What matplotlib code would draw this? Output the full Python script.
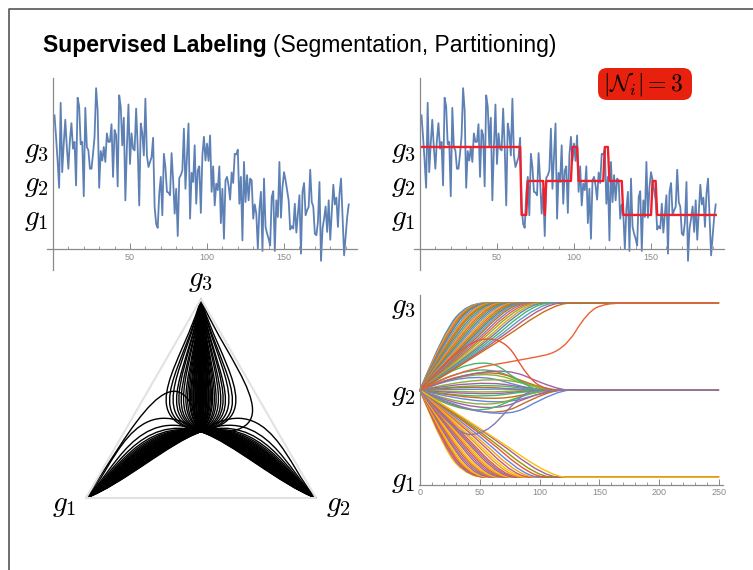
import numpy as np
import matplotlib
matplotlib.use("Agg")
import matplotlib.pyplot as plt
from matplotlib.path import Path
from matplotlib.patches import PathPatch, FancyBboxPatch
from matplotlib.lines import Line2D
from matplotlib.transforms import IdentityTransform

plt.rcParams["font.family"] = ["Liberation Sans", "DejaVu Sans"]
plt.rcParams["mathtext.fontset"] = "cm"

# noisy signal (top panels), one value per sample
signal = [3.93, 3.3, 2.6, 1.8, 4.3, 2.26, 3.1, 3.8, 3.0, 2.36, 3.2, 3.7, 2.95, 3.15, 1.87,
          4.45, 4.2, 3.08, 3.15, 1.55, 4.15, 3.0, 2.9, 2.36, 2.36, 2.8, 3.3, 4.73, 4.08, 1.8,
          2.88, 2.6, 3.0, 2.56, 3.4, 3.15, 3.15, 3.67, 2.12, 3.5, 3.35, 1.84, 4.52, 4.18, 3.05,
          3.86, 1.43, 3.0, 4.25, 2.5, 3.4, 2.95, 2.9, 4.13, 3.0, 1.28, 3.69, 3.4, 2.75, 4.42,
          2.75, 2.41, 2.56, 2.7, 3.27, 1.23, 0.73, 0.62, 1.63, 2.12, 0.99, 2.8, 2.41, 1.68, 1.66,
          1.58, 2.82, 2.02, 1.04, 1.77, 0.38, 2.09, 2.17, 2.31, 3.54, 1.77, 2.7, 3.69, 0.89, 2.24,
          1.97, 3.05, 1.33, 2.31, 2.43, 1.06, 2.75, 3.3, 2.6, 3.1, 2.59, 3.34, 1.68, 2.43, 1.28,
          1.92, 1.73, 2.43, 0.76, 1.77, 0.3, 2.02, 2.12, 1.87, 1.45, 2.25, 1.94, 2.8, 2.78, 2.92,
          1.33, 2.12, 0.25, 2.56, 1.38, 2.17, 1.43, 2.07, 2.02, 0.89, 1.31, 1.04, 0.01, 1.16, 1.68,
          -0.06, 2.07, 0.65, 0.45, 0.3, 0.1, 1.53, 1.7, -0.06, 1.43, 0.94, 2.56, 0.92, 1.82, 2.26,
          2.02, 1.73, 1.43, 0.57, 0.67, 0.6, 1.33, 0.48, 1.04, 1.58, -0.14, 1.68, 1.94, 0.99, 1.14,
          1.24, 2.33, 1.38, 1.24, 0.45, 0.4, 0.79, 1.97, -0.35, 0.6, 0.89, 1.25, 0.5, 1.43, 0.27,
          1.09, 1.89, 1.31, 1.51, 0.65, 1.63, 2.07, 0.92, -0.19, 0.37, 0.94, 1.31]

# red labeling: level of each run and the sample where it starts
step_levels = [3, 1, 2, 1, 2, 3, 2, 3, 2, 1, 2, 1]
step_starts = [0, 65, 69, 80, 81, 98, 102, 119, 122, 131, 150, 153]

level_ticks = [1, 2, 3]
level_labels = [r"$g_1$", r"$g_2$", r"$g_3$"]
signal_ticks = [50, 100, 150]
time_ticks = [0, 50, 100, 150, 200, 250]

# label trajectories (bottom right), control points
up_x1 = [20, 21, 21, 22, 23, 23, 24, 25, 25, 26, 27, 28, 28, 29, 30, 31,
         32, 33, 34, 35, 36, 37, 38, 40, 41, 43, 45, 47, 50, 53, 56, 60]
up_y1 = [2.68, 2.68, 2.67, 2.66, 2.65, 2.64, 2.63, 2.62, 2.61, 2.60, 2.59, 2.58, 2.56, 2.55, 2.54, 2.53,
         2.52, 2.51, 2.50, 2.49, 2.49, 2.48, 2.47, 2.47, 2.46, 2.46, 2.45, 2.45, 2.46, 2.47, 2.48, 2.50]
up_x2 = [40, 41, 42, 43, 44, 45, 47, 48, 50, 51, 53, 55, 56, 58, 60, 62,
         64, 66, 68, 70, 72, 74, 76, 79, 82, 85, 88, 91, 95, 100, 105, 112]

down_x1 = [20, 21, 22, 22, 23, 24, 25, 25, 26, 27, 28, 29, 30, 31,
           32, 33, 34, 35, 36, 38, 39, 41, 43, 45, 48, 51, 55, 58]
down_y1 = [1.30, 1.31, 1.32, 1.33, 1.34, 1.35, 1.36, 1.38, 1.39, 1.40, 1.41, 1.43, 1.44, 1.45,
           1.46, 1.47, 1.48, 1.49, 1.50, 1.51, 1.52, 1.53, 1.53, 1.54, 1.54, 1.53, 1.52, 1.50]
down_x2 = [41, 42, 43, 44, 45, 46, 48, 50, 52, 53, 55, 57, 59, 61,
           63, 65, 67, 69, 71, 74, 77, 80, 84, 88, 93, 98, 104, 110]

stay_x1 = [45, 50, 40, 55, 48, 52, 42, 58, 46, 50, 44, 56, 60, 48, 52, 40, 54, 62, 47, 60, 48]
stay_y1 = [2.35, 2.30, 2.22, 2.18, 2.12, 2.08, 2.05, 2.02, 1.97, 1.94, 1.90, 1.86, 1.80, 1.76,
           1.70, 1.66, 1.62, 1.60, 2.27, 2.33, 2.47]
stay_x2 = [100, 105, 95, 110, 100, 98, 92, 105, 90, 95, 96, 104, 110, 100, 105, 95, 108, 115, 102, 115, 92]

late_riser = [(0, 2), (30, 2.22), (90, 2.36), (120, 2.45), (140, 2.9), (155, 3), (180, 3), (250, 3)]
bump_curve = [(0, 2), (35, 2.55), (70, 2.62), (90, 2.15), (105, 2), (130, 2), (250, 2)]
dip_curve = [(0, 2), (30, 1.48), (55, 1.5), (75, 1.8), (90, 2), (110, 2), (250, 2)]

# simplex trajectories (bottom left), control point offsets
side_dx1 = [-0.14, -0.142, -0.145, -0.148, -0.15, -0.153, -0.156, -0.16, -0.163, -0.166,
            -0.17, -0.173, -0.176, -0.18, -0.184, -0.188, -0.192, -0.196, -0.2, -0.205,
            -0.21, -0.215, -0.22, -0.225, -0.23, -0.235, -0.24, -0.25, -0.26, -0.27, -0.28, -0.3]
side_dy1 = [-0.05, -0.047, -0.044, -0.041, -0.038, -0.035, -0.032, -0.029, -0.026, -0.023,
            -0.02, -0.017, -0.014, -0.011, -0.008, -0.005, -0.002, 0.001, 0.004, 0.008,
            0.012, 0.016, 0.02, 0.025, 0.03, 0.036, 0.043, 0.05, 0.06, 0.08, 0.12, 0.2]
side_ex = [0.16, 0.16, 0.159, 0.158, 0.157, 0.156, 0.155, 0.154, 0.153, 0.152,
           0.15, 0.149, 0.148, 0.146, 0.145, 0.143, 0.142, 0.14, 0.138, 0.136,
           0.134, 0.132, 0.13, 0.128, 0.126, 0.125, 0.124, 0.123, 0.122, 0.121, 0.12, 0.12]
side_ey = [0.06, 0.061, 0.062, 0.063, 0.064, 0.065, 0.066, 0.067, 0.068, 0.069,
           0.07, 0.071, 0.072, 0.073, 0.074, 0.075, 0.076, 0.077, 0.078, 0.079,
           0.08, 0.082, 0.084, 0.086, 0.088, 0.09, 0.093, 0.096, 0.1, 0.105, 0.11, 0.12]

top_dx1 = [-0.3, -0.27, -0.24, -0.21, -0.19, -0.17, -0.15, -0.13, -0.115, -0.1,
           -0.09, -0.08, -0.07, -0.06, -0.05, -0.04, -0.03, -0.02, -0.012, -0.005, 0.0,
           0.005, 0.012, 0.02, 0.03, 0.04, 0.05, 0.06, 0.07, 0.08, 0.09,
           0.1, 0.115, 0.13, 0.15, 0.17, 0.19, 0.21, 0.24, 0.27, 0.3,
           -0.065, -0.045, -0.025, -0.015, -0.008, 0.008, 0.015, 0.025, 0.045, 0.065]
top_dy1 = [0.06, 0.065, 0.07, 0.075, 0.08, 0.085, 0.09, 0.1, 0.1, 0.11,
           0.11, 0.12, 0.12, 0.13, 0.13, 0.14, 0.14, 0.15, 0.15, 0.15, 0.16,
           0.15, 0.15, 0.15, 0.14, 0.14, 0.13, 0.13, 0.12, 0.12, 0.11,
           0.11, 0.1, 0.1, 0.09, 0.085, 0.08, 0.075, 0.07, 0.065, 0.06,
           0.125, 0.135, 0.145, 0.15, 0.155, 0.155, 0.15, 0.145, 0.135, 0.125]
top_ex = [-0.075, -0.068, -0.06, -0.053, -0.048, -0.043, -0.038, -0.033, -0.029, -0.025,
          -0.023, -0.02, -0.018, -0.015, -0.013, -0.01, -0.008, -0.005, -0.003, -0.001, 0.0,
          0.001, 0.003, 0.005, 0.008, 0.01, 0.013, 0.015, 0.018, 0.02, 0.023,
          0.025, 0.029, 0.033, 0.038, 0.043, 0.048, 0.053, 0.06, 0.068, 0.075,
          -0.016, -0.011, -0.006, -0.004, -0.002, 0.002, 0.004, 0.006, 0.011, 0.016]
top_ey = [-0.27, -0.29, -0.28, -0.3, -0.29, -0.31, -0.3, -0.32, -0.31, -0.3,
          -0.32, -0.31, -0.33, -0.32, -0.31, -0.33, -0.32, -0.34, -0.33, -0.32, -0.34,
          -0.32, -0.33, -0.34, -0.32, -0.33, -0.31, -0.32, -0.33, -0.31, -0.32,
          -0.3, -0.31, -0.32, -0.3, -0.31, -0.29, -0.3, -0.28, -0.29, -0.27,
          -0.3, -0.31, -0.33, -0.32, -0.34, -0.34, -0.32, -0.33, -0.31, -0.3]

loop_curves = [[(0.5, 0.2887), (0.4, 0.7), (0.2, 0.3), (0.0, 0.0)],
               [(0.5, 0.2887), (0.95, 0.25), (0.6, 0.6), (0.5, 0.866)]]

palette = ["#5E81B5", "#E19C24", "#8FB032", "#EB6235", "#8778B3", "#C56E1A", "#5D9EC7", "#FFBF00",
           "#A5609D", "#929600", "#E95536", "#6685D9", "#F89F13", "#BC5B80", "#47B66D"]

W, H = 753, 570
fig = plt.figure(figsize=(W / 100, H / 100), dpi=100)
fig.patch.set_facecolor("white")


def px_rect(left, top, width, height):
    return [left / W, 1 - (top + height) / H, width / W, height / H]


def smooth_path(pts):
    # quadratic B-spline through a control polygon
    pts = np.asarray(pts, float)
    verts = [pts[0]]
    codes = [Path.MOVETO]
    for i in range(1, len(pts) - 1):
        end = pts[-1] if i == len(pts) - 2 else (pts[i] + pts[i + 1]) / 2
        verts += [pts[i], end]
        codes += [Path.CURVE3, Path.CURVE3]
    return Path(verts, codes)


def style_axes(ax, xticks, minor, ylabel_pad):
    ax.spines["top"].set_visible(False)
    ax.spines["right"].set_visible(False)
    for side in ["left", "bottom"]:
        ax.spines[side].set_color("#8a8a8a")
        ax.spines[side].set_linewidth(0.9)
    ax.set_xticks(xticks)
    ax.set_xticks(minor, minor=True)
    ax.set_xticklabels([str(t) for t in xticks])
    ax.tick_params(axis="x", which="major", direction="in", length=4, width=0.7,
                   colors="#8a8a8a", labelsize=6.5, pad=3)
    ax.tick_params(axis="x", which="minor", direction="in", length=2.2, width=0.6, colors="#8a8a8a")
    ax.set_yticks(level_ticks)
    ax.set_yticklabels(level_labels, fontsize=21)
    ax.tick_params(axis="y", length=0, pad=ylabel_pad, labelcolor="black")
    ax.set_facecolor("none")


# ---- top panels
xs = np.arange(1, len(signal) + 1)
labels = np.repeat(step_levels, np.diff(step_starts + [len(signal)]))

for left, with_steps in [(46.8, False), (413.8, True)]:
    ax = fig.add_axes(px_rect(left, 78, 310.4, 192))
    ax.plot(xs, signal, color="#5E81B5", lw=1.3)
    if with_steps:
        ax.plot(xs, labels, color="#F0202A", lw=1.7)
    ax.set_xlim(-4, 197.5)
    ax.set_ylim(-0.62, 5.03)
    ax.spines["left"].set_position(("data", 0))
    ax.spines["bottom"].set_position(("data", 0))
    style_axes(ax, signal_ticks, range(10, 200, 10), 3)

# ---- bottom right: label trajectories
ax = fig.add_axes(px_rect(419.4, 295, 303.2, 190))
ax.set_xlim(-0.5, 253)
ax.set_ylim(0.91, 3.095)
ax.spines["left"].set_position(("data", 0))
style_axes(ax, time_ticks, range(10, 251, 10), 3)
ax.tick_params(axis="x", which="major", pad=2)

groups = [
    [[(0, 2), (a, b), (c, 3), (c + 25, 3), (250, 3)] for a, b, c in zip(up_x1, up_y1, up_x2)],
    [[(0, 2), (a, b), (c, 1), (c + 25, 1), (250, 1)] for a, b, c in zip(down_x1, down_y1, down_x2)],
    [[(0, 2), (a, b), (c, 2), (c + 20, 2), (250, 2)] for a, b, c in zip(stay_x1, stay_y1, stay_x2)],
]
curves = []
for k in range(max(len(g) for g in groups)):
    for g in groups:
        if k < len(g):
            curves.append(g[k])
for i, pts in enumerate(curves):
    ax.add_patch(PathPatch(smooth_path(pts), fill=False, lw=1.0, ec=palette[(i * 7) % len(palette)]))
for pts, col in [(late_riser, "#EB6235"), (bump_curve, "#E95536"), (dip_curve, "#8778B3")]:
    ax.add_patch(PathPatch(smooth_path(pts), fill=False, lw=1.0, ec=col))

# ---- bottom left: simplex
ax = fig.add_axes(px_rect(51.5, 276, 299, 245))
ax.set_xlim(-0.15, 1.15)
ax.set_ylim(-0.1, 0.966)
ax.axis("off")
v1, v2, v3 = np.array([0.0, 0.0]), np.array([1.0, 0.0]), np.array([0.5, 0.866])
centre = (v1 + v2 + v3) / 3
ax.plot([v1[0], v2[0], v3[0], v1[0]], [v1[1], v2[1], v3[1], v1[1]], color="#e2e2e2", lw=1.5)

cubic = [Path.MOVETO, Path.CURVE4, Path.CURVE4, Path.CURVE4]
tri_paths = []
for dx, dy, ex, ey in zip(side_dx1, side_dy1, side_ex, side_ey):
    tri_paths.append([centre, centre + (dx, dy), v1 + (ex, ey), v1])
    tri_paths.append([centre, centre + (-dx, dy), v2 + (-ex, ey), v2])
for dx, dy, ex, ey in zip(top_dx1, top_dy1, top_ex, top_ey):
    tri_paths.append([centre, centre + (dx, dy), v3 + (ex, ey), v3])
tri_paths += loop_curves
for pts in tri_paths:
    ax.add_patch(PathPatch(Path(pts, cubic), fill=False, lw=1.0, ec="black"))

ax.text(0.5, 0.948, level_labels[2], fontsize=21, ha="center", va="center")
ax.text(-0.096, -0.03, level_labels[0], fontsize=21, ha="center", va="center")
ax.text(1.096, -0.03, level_labels[1], fontsize=21, ha="center", va="center")

# ---- title, badge, frame
t1 = fig.text(43 / W, 1 - 52 / H, "Supervised Labeling", fontsize=16.5, fontweight="bold", va="baseline")
bb = t1.get_window_extent(fig.canvas.get_renderer())
fig.text(bb.x1 / W + 6 / W, 1 - 52 / H, "(Segmentation, Partitioning)", fontsize=16.5, va="baseline")

fig.add_artist(FancyBboxPatch((598, H - 100), 94, 32, boxstyle="round,pad=0,rounding_size=9",
                              fc="#E8210E", ec="none", transform=IdentityTransform()))
fig.text(643 / W, 1 - 84 / H, r"$|\mathcal{N}_i| = 3$", fontsize=17, ha="center", va="center")

fig.add_artist(Line2D([9 / W, 9 / W, 1], [0, 1 - 9 / H, 1 - 9 / H], transform=fig.transFigure,
                      color="#555555", lw=1.2))

fig.savefig("out.png", dpi=100)
